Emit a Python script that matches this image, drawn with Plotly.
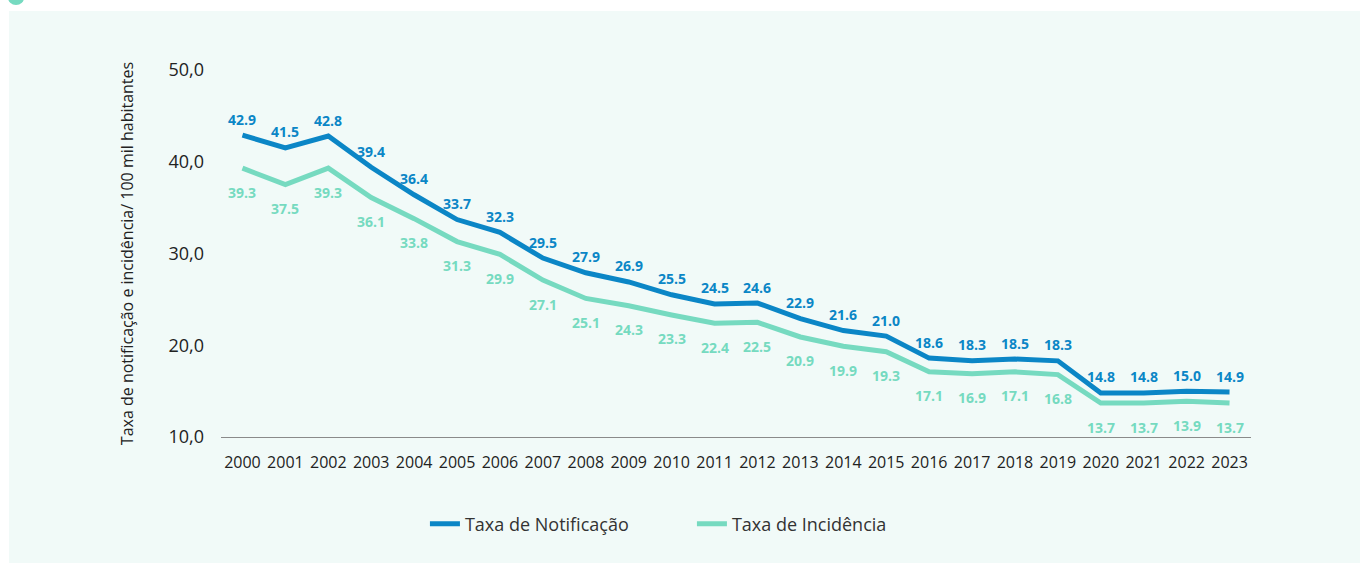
import plotly.graph_objects as go

years = list(range(2000, 2024))
notificacao = [42.9, 41.5, 42.8, 39.4, 36.4, 33.7, 32.3, 29.5, 27.9, 26.9, 25.5, 24.5,
               24.6, 22.9, 21.6, 21.0, 18.6, 18.3, 18.5, 18.3, 14.8, 14.8, 15.0, 14.9]
incidencia = [39.3, 37.5, 39.3, 36.1, 33.8, 31.3, 29.9, 27.1, 25.1, 24.3, 23.3, 22.4,
              22.5, 20.9, 19.9, 19.3, 17.1, 16.9, 17.1, 16.8, 13.7, 13.7, 13.9, 13.7]
y_tickvals = [10, 20, 30, 40, 50]
y_ticktext = ["10,0", "20,0", "30,0", "40,0", "50,0"]

BLUE = "#0b86c6"
GREEN = "#76dac0"
BG = "#f1faf8"
FONT = "Open Sans"

fig = go.Figure()
fig.add_trace(go.Scatter(x=years, y=notificacao, mode="lines", name="Taxa de Notificação",
                         line=dict(color=BLUE, width=5), hoverinfo="x+y"))
fig.add_trace(go.Scatter(x=years, y=incidencia, mode="lines", name="Taxa de Incidência",
                         line=dict(color=GREEN, width=5), hoverinfo="x+y"))

for x, v in zip(years, notificacao):
    fig.add_annotation(x=x, y=v, text=f"<b>{v:.1f}</b>", showarrow=False, yshift=16,
                       font=dict(family=FONT, size=14, color=BLUE))
for x, v in zip(years, incidencia):
    fig.add_annotation(x=x, y=v, text=f"<b>{v:.1f}</b>", showarrow=False, yshift=-24,
                       font=dict(family=FONT, size=14, color=GREEN))

# background panel
fig.add_shape(type="rect", xref="paper", yref="paper", x0=-0.2058, x1=1.2, y0=-0.5, y1=1.1608,
              fillcolor=BG, line=dict(width=0), layer="below")
fig.add_shape(type="circle", xref="paper", yref="paper", x0=-0.207, x1=-0.191, y0=1.177, y1=1.221,
              fillcolor=GREEN, line=dict(width=0), layer="below")

fig.update_layout(
    width=1360, height=563,
    margin=dict(l=221, r=109, t=70, b=126),
    paper_bgcolor="white", plot_bgcolor="rgba(0,0,0,0)",
    font=dict(family=FONT, color="#222"),
    showlegend=True,
    legend=dict(orientation="h", x=0.198, xanchor="left", y=-0.237, yanchor="middle",
                font=dict(family=FONT, size=18, color="#333"), bgcolor="rgba(0,0,0,0)",
                entrywidth=222, entrywidthmode="pixels"),
    xaxis=dict(type="linear", range=[1999.5, 2023.5], tickmode="linear", tick0=2000, dtick=1,
               showgrid=False, zeroline=False,
               showline=True, linecolor="#8a8a8a", linewidth=1, ticks="",
               tickfont=dict(family=FONT, size=16, color="#222"), ticklabelstandoff=11,
               fixedrange=True),
    yaxis=dict(range=[10, 50], tickvals=y_tickvals, ticktext=y_ticktext, showgrid=False,
               zeroline=False, showline=False, ticks="",
               tickfont=dict(family=FONT, size=18, color="#222"), ticklabelstandoff=16,
               title=dict(text="Taxa de notificação e incidência/ 100 mil habitantes",
                          font=dict(family=FONT, size=16, color="#222"), standoff=30),
               fixedrange=True),
)

fig.write_html("out.html", config={"displayModeBar": False},
               post_script="document.body.style.margin='0px';")
